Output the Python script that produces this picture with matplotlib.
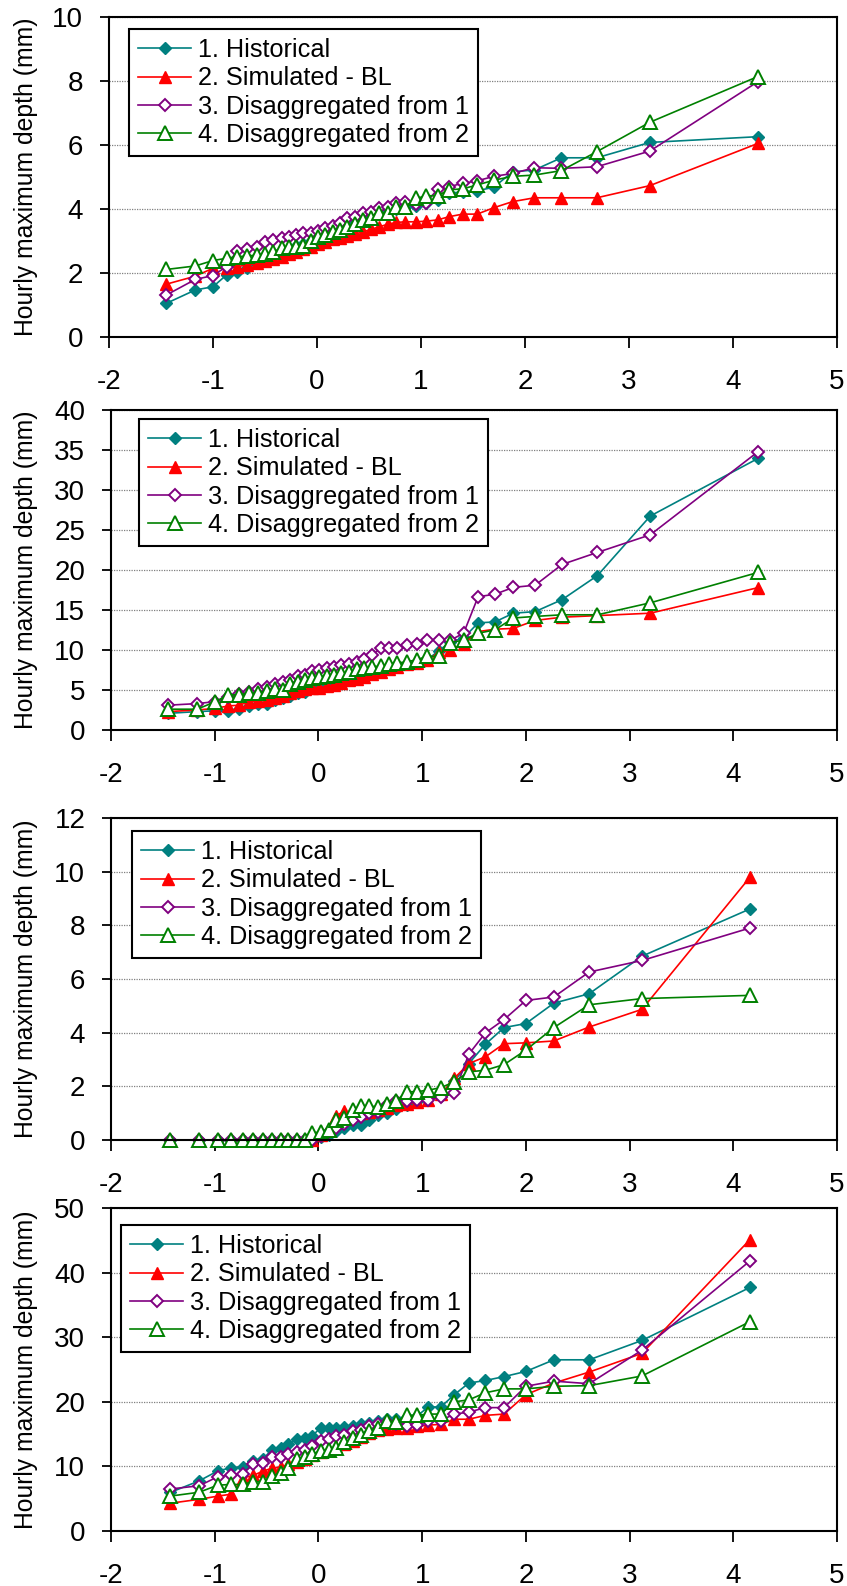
import matplotlib
matplotlib.use("Agg")
import matplotlib.pyplot as plt

plt.rcParams['font.family'] = ['Liberation Sans', 'DejaVu Sans']
plt.rcParams['axes.unicode_minus'] = False

# ---- data (Gumbel reduced variate vs hourly maximum depth) ----
x39 = [-1.45, -1.17, -1.00, -0.87, -0.77, -0.67, -0.58, -0.50, -0.42, -0.34,
       -0.27, -0.20, -0.13, -0.06, 0.01, 0.08, 0.15, 0.22, 0.29, 0.37,
       0.44, 0.52, 0.60, 0.68, 0.76, 0.85, 0.95, 1.05, 1.16, 1.27,
       1.40, 1.54, 1.70, 1.88, 2.09, 2.35, 2.69, 3.20, 4.24]
x36 = [-1.43, -1.15, -0.97, -0.84, -0.73, -0.63, -0.53, -0.45, -0.36, -0.29,
       -0.21, -0.13, -0.06, 0.02, 0.10, 0.17, 0.25, 0.33, 0.41, 0.49,
       0.57, 0.66, 0.75, 0.85, 0.95, 1.06, 1.18, 1.31, 1.45, 1.61,
       1.79, 2.00, 2.27, 2.61, 3.12, 4.16]

# panel 1
hist1 = [1.05, 1.47, 1.57, 1.94, 2.04, 2.15, 2.3, 2.45, 2.55, 2.65,
         2.75, 2.85, 2.9, 3.0, 3.1, 3.2, 3.3, 3.4, 3.5, 3.6,
         3.7, 3.8, 3.9, 3.95, 4.0, 4.05, 4.1, 4.2, 4.28, 4.49,
         4.54, 4.57, 4.68, 5.16, 5.22, 5.6, 5.6, 6.08, 6.26]
sim1 = [1.65, 1.9, 2.15, 2.17, 2.2, 2.25, 2.3, 2.38, 2.45, 2.5,
        2.58, 2.66, 2.74, 2.82, 2.9, 2.98, 3.05, 3.1, 3.15, 3.22,
        3.29, 3.36, 3.45, 3.52, 3.58, 3.6, 3.6, 3.62, 3.66, 3.76,
        3.84, 3.84, 4.04, 4.23, 4.35, 4.35, 4.35, 4.73, 6.05]
dis1_1 = [1.31, 1.8, 1.92, 2.2, 2.7, 2.74, 2.82, 2.98, 3.03, 3.1,
          3.14, 3.19, 3.24, 3.26, 3.32, 3.4, 3.47, 3.55, 3.71, 3.76,
          3.86, 3.92, 4.02, 4.07, 4.18, 4.23, 4.15, 4.2, 4.62, 4.7,
          4.8, 4.88, 5.02, 5.11, 5.29, 5.27, 5.32, 5.81, 7.98]
dis2_1 = [2.11, 2.22, 2.39, 2.46, 2.51, 2.53, 2.56, 2.59, 2.67, 2.77,
          2.8, 2.82, 2.84, 3.01, 3.11, 3.19, 3.29, 3.34, 3.45, 3.52,
          3.66, 3.71, 3.86, 3.89, 4.05, 4.07, 4.33, 4.41, 4.42, 4.6,
          4.63, 4.75, 4.9, 5.02, 5.06, 5.2, 5.79, 6.71, 8.14]

# panel 2
hist2 = [2.08, 2.3, 2.4, 2.4, 2.6, 3.0, 3.25, 3.3, 3.8, 4.0,
         4.3, 4.6, 4.8, 5.2, 5.4, 5.6, 5.8, 6.1, 6.3, 6.7,
         7.0, 7.3, 7.7, 7.9, 8.1, 8.25, 8.5, 8.8, 9.9, 11.0,
         11.5, 13.4, 13.5, 14.6, 14.8, 16.3, 19.3, 26.75, 33.96]
sim2 = [2.3, 2.5, 2.7, 3.0, 3.1, 3.5, 3.6, 3.7, 4.0, 4.3,
        4.6, 4.9, 5.1, 5.2, 5.3, 5.45, 5.6, 5.9, 6.2, 6.4,
        6.6, 7.0, 7.3, 7.6, 7.9, 8.2, 8.4, 8.7, 9.7, 10.0,
        10.8, 12.3, 12.6, 12.7, 13.7, 14.1, 14.3, 14.6, 17.8]
dis1_2 = [3.1, 3.3, 3.54, 4.17, 4.5, 4.8, 5.1, 5.4, 5.8, 6.0,
          6.3, 6.7, 6.9, 7.4, 7.5, 7.7, 7.9, 8.1, 8.3, 8.5,
          8.9, 9.4, 10.2, 10.2, 10.2, 10.6, 10.8, 11.2, 11.25, 11.2,
          12.1, 16.67, 16.96, 17.83, 18.1, 20.7, 22.2, 24.4, 34.8]
dis2_2 = [2.6, 2.6, 3.5, 4.4, 4.4, 4.6, 4.6, 4.9, 5.1, 5.0,
          5.75, 6.0, 6.25, 6.5, 6.6, 6.75, 6.9, 7.1, 7.2, 7.6,
          7.7, 7.9, 8.0, 8.3, 8.4, 8.5, 8.8, 9.2, 9.2, 10.9,
          11.25, 12.1, 12.5, 14.0, 14.2, 14.4, 14.4, 15.9, 19.7]

# panel 3
hist3 = [0, 0, 0, 0, 0, 0, 0, 0, 0, 0, 0, 0, 0,
         0.1, 0.2, 0.35, 0.45, 0.55, 0.55, 0.75, 0.95, 1.0, 1.15,
         1.3, 1.45, 1.55, 1.65, 2.2, 2.85, 3.57, 4.19, 4.34, 5.1,
         5.45, 6.85, 8.61]
sim3 = [0, 0, 0, 0, 0, 0, 0, 0, 0, 0, 0, 0, 0,
        0.2, 0.37, 0.9, 1.08, 0.98, 1.0, 1.05, 1.1, 1.2, 1.3,
        1.35, 1.4, 1.5, 1.7, 2.3, 2.85, 3.1, 3.59, 3.62, 3.69,
        4.21, 4.87, 9.79]
dis1_3 = [0, 0, 0, 0, 0, 0, 0, 0, 0, 0, 0, 0, 0,
          0.15, 0.3, 0.45, 0.6, 0.75, 0.87, 1.0, 1.05, 1.3, 1.45,
          1.45, 1.5, 1.5, 1.6, 1.76, 3.2, 3.99, 4.49, 5.2, 5.33,
          6.26, 6.69, 7.9]
dis2_3 = [0, 0, 0, 0, 0, 0, 0, 0, 0, 0, 0, 0,
          0.25, 0.31, 0.37, 0.74, 0.81, 1.12, 1.26, 1.26, 1.24, 1.34,
          1.46, 1.8, 1.8, 1.86, 1.95, 2.17, 2.54, 2.6, 2.81, 3.35,
          4.19, 5.04, 5.27, 5.39]

# panel 4
hist4 = [5.96, 7.76, 9.3, 9.8, 9.9, 10.9, 11.2, 12.6, 12.9, 13.4,
         14.2, 14.4, 14.7, 16.0, 16.0, 16.0, 16.1, 16.2, 16.5, 16.7,
         17.0, 17.3, 17.4, 17.6, 17.8, 19.2, 19.2, 21.1, 22.9, 23.3,
         23.9, 24.7, 26.5, 26.5, 29.5, 37.7]
sim4 = [4.3, 4.9, 5.4, 5.7, 8.2, 8.6, 9.3, 9.7, 9.9, 10.3,
        10.7, 11.2, 11.8, 12.2, 12.6, 13.0, 13.5, 14.0, 14.6, 15.2,
        15.7, 15.8, 15.9, 16.0, 16.2, 16.4, 16.5, 17.3, 17.3, 17.9,
        18.1, 21.1, 22.9, 24.6, 27.5, 45.1]
dis1_4 = [6.5, 7.0, 8.4, 8.7, 8.9, 10.3, 10.6, 11.4, 11.5, 11.9,
          12.3, 12.5, 13.1, 13.9, 14.2, 14.7, 14.9, 15.5, 15.7, 16.2,
          16.5, 16.8, 16.6, 16.2, 16.4, 17.1, 17.1, 18.1, 18.4, 19.1,
          19.1, 22.4, 23.2, 22.8, 28.0, 41.8]
dis2_4 = [5.4, 6.0, 7.1, 7.2, 7.2, 7.65, 7.65, 8.5, 9.0, 9.8,
          11.1, 11.4, 11.9, 12.4, 12.6, 12.9, 13.7, 14.4, 14.8, 15.5,
          16.0, 17.0, 16.9, 17.9, 17.9, 18.1, 18.1, 20.0, 20.3, 21.4,
          22.0, 22.0, 22.4, 22.5, 24.0, 32.4]

labels = ["1. Historical", "2. Simulated - BL",
          "3. Disaggregated from 1", "4. Disaggregated from 2"]
xticks = [-2, -1, 0, 1, 2, 3, 4, 5]

panels = [
    (x39, [hist1, sim1, dis1_1, dis2_1], 10, 2),
    (x39, [hist2, sim2, dis1_2, dis2_2], 40, 5),
    (x36, [hist3, sim3, dis1_3, dis2_3], 12, 2),
    (x36, [hist4, sim4, dis1_4, dis2_4], 50, 10),
]

# ---- layout (pixels in a 847 x 1586 figure) ----
W, H = 847, 1586
boxes = [(109, 17, 837, 337), (111, 410, 837, 730),
         (111, 818, 837, 1140), (111, 1208, 837, 1531)]
leg_pos = [(129, 29), (139, 419), (132, 831), (121, 1225)]

styles = [
    dict(color='#008080', marker='D', ms=6.5, mfc='#008080', mec='#008080'),
    dict(color='#FF0000', marker='^', ms=9.0, mfc='#FF0000', mec='#FF0000'),
    dict(color='#800080', marker='D', ms=6.5, mfc='white', mec='#800080', mew=1.4),
    dict(color='#008000', marker='^', ms=9.5, mfc='white', mec='#008000', mew=1.4),
]

fig = plt.figure(figsize=(W / 100, H / 100), dpi=100)

for (xs, series, ymax, ystep), (l, t, r, b), (lx, ly) in zip(panels, boxes, leg_pos):
    ax = fig.add_axes([l / W, 1 - b / H, (r - l) / W, (b - t) / H])
    for ys, lab, st in zip(series, labels, styles):
        ax.plot(xs, ys, lw=1.2, label=lab, clip_on=False, **st)

    ax.set_xlim(-2, 5)
    ax.set_ylim(0, ymax)
    ax.set_xticks(xticks)
    ax.set_yticks(list(range(0, ymax + 1, ystep)))
    ax.yaxis.grid(True, color='#808080', linestyle=(0, (1, 1)), linewidth=0.9)
    ax.set_axisbelow(True)
    for sp in ax.spines.values():
        sp.set_linewidth(1.5)
        sp.set_color('black')
    ax.tick_params(axis='x', direction='out', length=8, width=1.3,
                   labelsize=20, pad=15)
    ax.tick_params(axis='y', direction='out', length=6.5, width=1.3,
                   labelsize=20, pad=12)
    ax.set_ylabel("Hourly maximum depth (mm)", fontsize=17.8)
    ax.yaxis.set_label_coords((38 - l) / (r - l), 0.5)

    leg = ax.legend(loc='upper left', bbox_to_anchor=(lx / W, 1 - ly / H),
                    bbox_transform=fig.transFigure, borderaxespad=0,
                    fontsize=18.2, frameon=True, fancybox=False, shadow=False,
                    handlelength=2.1, handletextpad=0.25, labelspacing=0.17,
                    borderpad=0.36, numpoints=1)
    leg.get_frame().set_edgecolor('black')
    leg.get_frame().set_linewidth(1.5)
    leg.get_frame().set_alpha(1)

fig.savefig("out.png", dpi=100)
